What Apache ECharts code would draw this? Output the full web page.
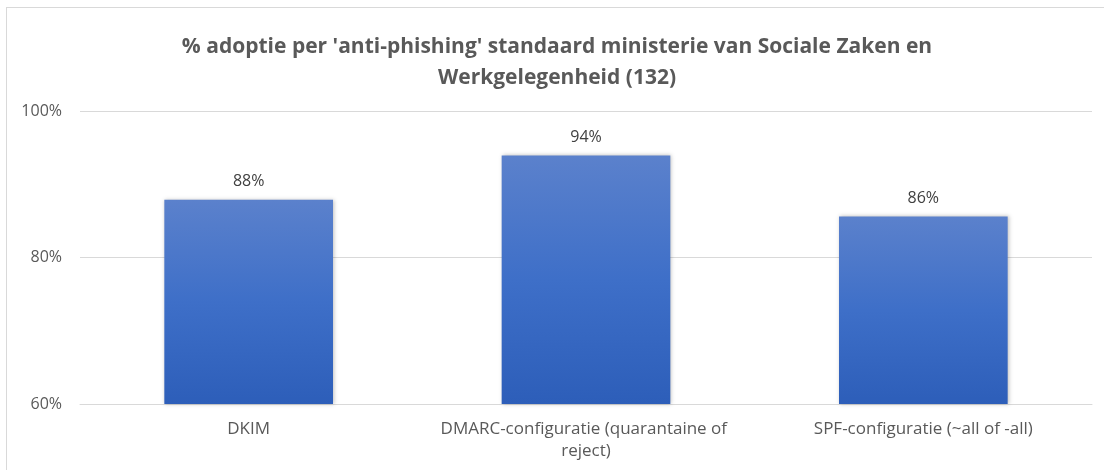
<!DOCTYPE html>
<html>
<head>
<meta charset="utf-8">
<script src="https://cdn.jsdelivr.net/npm/echarts@6/dist/echarts.min.js"></script>
<style>
html,body{margin:0;padding:0;background:#fff;}
#frame{position:absolute;left:6px;top:7px;width:1120px;height:480px;border:1px solid #d9d9d9;box-sizing:border-box;}
#chart{position:absolute;left:0;top:0;width:1104px;height:470px;}
</style>
</head>
<body>
<div id="frame"></div>
<div id="chart"></div>
<script>
const titleText = "% adoptie per 'anti-phishing' standaard ministerie van Sociale Zaken en\nWerkgelegenheid (132)";
const categories = ["DKIM", "DMARC-configuratie (quarantaine of reject)", "SPF-configuratie (~all of -all)"];
const values = [0.8788, 0.9394, 0.8561];
const yMin = 0.6, yMax = 1.0, yStep = 0.2;

const chart = echarts.init(document.getElementById('chart'), null, {renderer: 'canvas'});
const font = "'Open Sans', sans-serif";
chart.setOption({
  animation: false,
  backgroundColor: 'transparent',
  title: {
    text: titleText,
    left: 552, top: 27, textAlign: 'center',
    textStyle: {fontFamily: font, fontSize: 21, fontWeight: 'bold', color: '#595959', lineHeight: 31}
  },
  grid: {left: 80, right: 12, top: 111, bottom: 66},
  xAxis: {
    type: 'category',
    data: categories,
    axisLine: {show: true, lineStyle: {color: '#d9d9d9', width: 1}},
    axisTick: {show: false},
    axisLabel: {
      fontFamily: font, fontSize: 17, color: '#595959', margin: 14, lineHeight: 22,
      width: 300, overflow: 'break', interval: 0
    }
  },
  yAxis: {
    type: 'value',
    min: yMin, max: yMax, interval: yStep,
    axisLine: {show: false},
    axisTick: {show: false},
    splitLine: {lineStyle: {color: '#d9d9d9', width: 1}},
    axisLabel: {
      fontFamily: font, fontSize: 16, color: '#595959', margin: 18,
      formatter: v => Math.round(v * 100) + '%'
    }
  },
  series: [{
    type: 'bar',
    data: values,
    barWidth: '50%',
    itemStyle: {
      color: new echarts.graphic.LinearGradient(0, 0, 0, 1, [
        {offset: 0, color: '#5b81cc'},
        {offset: 0.5, color: '#3e6fc8'},
        {offset: 1, color: '#2d5eb9'}
      ]),
      shadowColor: 'rgba(0,0,0,0.25)', shadowBlur: 4, shadowOffsetX: 1, shadowOffsetY: 0
    },
    label: {
      show: true, position: 'top', distance: 10,
      fontFamily: font, fontSize: 16, color: '#404040',
      formatter: p => Math.round(p.value * 100) + '%'
    }
  }]
});
</script>
</body>
</html>
